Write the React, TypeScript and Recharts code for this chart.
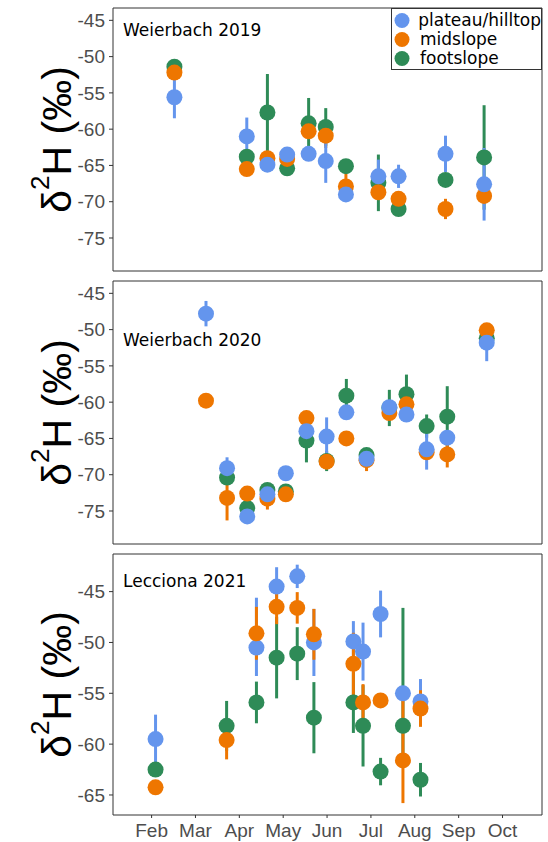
import React from "react";
import {
  ScatterChart,
  Scatter,
  XAxis,
  YAxis,
  ErrorBar,
  ReferenceArea,
  Legend,
} from "recharts";

const MONTH_TICKS = [2, 3, 4, 5, 6, 7, 8, 9, 10];
const MONTH_LABELS = ["Feb", "Mar", "Apr", "May", "Jun", "Jul", "Aug", "Sep", "Oct"];
const GROUPS = ["plateau/hilltop", "midslope", "footslope"];
const COLORS: Record<string, string> = {
  "plateau/hilltop": "#6495ED",
  midslope: "#EE7600",
  footslope: "#2E8B57",
};

const X_DOMAIN = [1.12, 10.9];
const WB_Y_DOMAIN = [-79.55, -43.3];
const WB_Y_TICKS = [-75, -70, -65, -60, -55, -50, -45];
const LE_Y_DOMAIN = [-66.97, -41.3];
const LE_Y_TICKS = [-65, -60, -55, -50, -45];

// error values: a number is symmetric, [below, above] is asymmetric
type Err = number | [number, number] | null;

// Weierbach 2019 (x = month position, Feb = 2)
const W19_X = [2.52, 4.17, 4.64, 5.09, 5.58, 5.97, 6.43, 7.17, 7.63, 8.7, 9.58];
const W19_PLATEAU = [-55.6, -61.0, -64.9, -63.5, -63.4, -64.4, -69.0, -66.5, -66.5, -63.4, -67.6];
const W19_PLATEAU_ERR: Err[] = [2.9, 2.6, 0, 0.5, 0.3, 3.0, 0, 2.3, 1.6, 2.5, 5.0];
const W19_MID = [-52.2, -65.5, -64.0, -64.1, -60.3, -60.9, -67.9, -68.7, -69.6, -71.0, -69.2];
const W19_MID_ERR: Err[] = [0.5, 0, 0.3, 1.0, 0.5, 1.7, 1.8, 0, 0, 1.4, 0];
const W19_FOOT = [-51.4, -63.8, -57.7, -65.4, -59.2, -59.7, -65.1, -67.4, -71.0, -67.0, -63.9];
const W19_FOOT_ERR: Err[] = [0.4, 0.8, 5.3, 0.5, 3.5, 2.6, 0.3, 3.9, 0, 0, 7.2];

// Weierbach 2020
const W20_X = [3.24, 3.72, 4.18, 4.64, 5.06, 5.53, 5.99, 6.44, 6.9, 7.42, 7.81, 8.27, 8.74, 9.64];
const W20_PLATEAU = [-47.8, -69.1, -75.75, -72.7, -69.8, -64.0, -64.75, -61.4, -67.8, -60.7, -61.7, -66.5, -64.9, -51.8];
const W20_PLATEAU_ERR: Err[] = [1.75, 1.5, 0.3, 0, 0, 1.85, 2.65, 0.5, 0.5, 0.5, 0.3, 2.8, 0, 2.55];
const W20_MID = [-59.8, -73.2, -72.6, -73.3, -72.7, -62.2, -68.2, -65.0, -68.0, -61.5, -60.3, -66.9, -67.2, -50.1];
const W20_MID_ERR: Err[] = [0, 3.1, 0.3, 1.5, 0, 0.5, 0, 0, 1.5, 0.5, 0.5, 0, 1.8, 0.5];
const W20_FOOT = [null, -70.4, -74.6, -72.1, -72.3, -65.3, -68.1, -59.1, -67.3, -60.8, -58.9, -63.3, -62.0, -51.2];
const W20_FOOT_ERR: Err[] = [null, 0.5, 1.85, 0, 0.5, 3.0, 1.4, 2.3, 0.5, 2.5, 2.7, 1.6, 4.2, 0.5];

// Lecciona 2021
const L21_X = [2.09, 3.71, 4.39, 4.85, 5.32, 5.7, 6.6, 6.82, 7.22, 7.73, 8.13];
const L21_PLATEAU = [-59.5, null, -50.5, -44.5, -43.5, -50.0, -49.9, -50.9, -47.2, -55.0, -55.8];
const L21_PLATEAU_ERR: Err[] = [2.4, null, [2.8, 4.9], 1.9, 1.15, 3.3, 2.0, 2.85, 2.3, 0, 2.2];
const L21_MID = [-64.25, -59.6, -49.1, -46.5, -46.6, -49.2, -52.1, -55.9, -55.7, -61.6, -56.5];
const L21_MID_ERR: Err[] = [0, 1.9, 2.6, 1.7, 1.55, 2.5, 3.05, 1.8, 0, [4.2, 6.8], 1.8];
const L21_FOOT = [-62.5, -58.2, -55.9, -51.5, -51.1, -57.4, -55.9, -58.2, -62.7, -58.2, -63.5];
const L21_FOOT_ERR: Err[] = [0, 2.45, 2.05, 4.0, 2.6, 3.5, 3.0, 4.0, 1.35, [4.0, 11.6], 1.65];

type Pt = { x: number; y: number; err: number | [number, number] };

function toPoints(xs: number[], ys: (number | null)[], errs: Err[]): Pt[] {
  const out: Pt[] = [];
  xs.forEach((x, i) => {
    const y = ys[i];
    if (y == null) return;
    out.push({ x, y, err: errs[i] ?? 0 });
  });
  return out;
}

const TICK_FONT = "'Liberation Sans', Arial, sans-serif";
const TEXT_FONT = "'DejaVu Sans', Verdana, sans-serif";

const YTitle = (props: any) => {
  const vb = props.viewBox || {};
  const cy = vb.height ? vb.y + vb.height / 2 : props.fallbackCy;
  const x = 71;
  return (
    <text
      x={x}
      y={cy}
      transform={`rotate(-90, ${x}, ${cy})`}
      textAnchor="middle"
      fontFamily={TICK_FONT}
      fontSize={41}
      fill="#000"
    >
      δ
      <tspan fontSize={26} dy={-22}>
        2
      </tspan>
      <tspan dy={22}>H (‰)</tspan>
    </text>
  );
};

const LegendBox = (props: any) => {
  const items = [...(props.payload || [])].sort(
    (a: any, b: any) => GROUPS.indexOf(a.value) - GROUPS.indexOf(b.value)
  );
  return (
    <div
      style={{
        border: "1px solid #333",
        background: "#fff",
        padding: "2px 0 1px 0",
        boxSizing: "border-box",
        width: 151,
      }}
    >
      {items.map((it: any) => (
        <div key={it.value} style={{ display: "flex", alignItems: "center", height: 19 }}>
          <svg width={28} height={19} style={{ display: "block" }}>
            <circle cx={10} cy={9.5} r={7.5} fill={COLORS[it.value]} />
          </svg>
          <span style={{ fontFamily: TEXT_FONT, fontSize: 17, color: "#000", lineHeight: "19px" }}>
            {it.value}
          </span>
        </div>
      ))}
    </div>
  );
};

type PanelProps = {
  top: number;
  height: number;
  marginTop: number;
  axisHeight: number;
  yDomain: number[];
  yTicks: number[];
  title: string;
  titleTop: number;
  series: Record<string, Pt[]>;
  order: string[];
  showXLabels?: boolean;
  showLegend?: boolean;
};

function Panel(p: PanelProps) {
  const fallbackCy = p.marginTop + (p.height - p.marginTop - p.axisHeight) / 2;
  return (
    <div style={{ position: "absolute", left: 0, top: p.top, width: 548, height: p.height }}>
      <ScatterChart
        width={548}
        height={p.height}
        margin={{ top: p.marginTop, right: 6, bottom: 0, left: 0 }}
      >
        <XAxis
          type="number"
          dataKey="x"
          domain={X_DOMAIN}
          ticks={MONTH_TICKS}
          interval={0}
          allowDataOverflow
          height={p.axisHeight}
          axisLine={false}
          tickSize={3}
          tickMargin={6}
          tickLine={{ stroke: "#333" }}
          tick={p.showXLabels ? { fontSize: 19, fill: "#4D4D4D", fontFamily: TICK_FONT } : false}
          tickFormatter={(v: number) => MONTH_LABELS[MONTH_TICKS.indexOf(v)] ?? ""}
        />
        <YAxis
          type="number"
          dataKey="y"
          domain={p.yDomain}
          ticks={p.yTicks}
          interval={0}
          allowDataOverflow
          width={113}
          axisLine={false}
          tickSize={4}
          tickMargin={4}
          tickLine={{ stroke: "#333" }}
          tick={{ fontSize: 19, fill: "#4D4D4D", fontFamily: TICK_FONT }}
          label={(lp: any) => <YTitle {...lp} fallbackCy={fallbackCy} />}
        />
        <ReferenceArea
          x1={X_DOMAIN[0]}
          x2={X_DOMAIN[1]}
          y1={p.yDomain[0]}
          y2={p.yDomain[1]}
          fill="none"
          stroke="#333"
          strokeWidth={1}
        />
        {p.order.map((g) => (
          <Scatter
            key={g}
            name={g}
            data={p.series[g]}
            fill={COLORS[g]}
            isAnimationActive={false}
            shape={(s: any) => <circle cx={s.cx} cy={s.cy} r={8} fill={COLORS[g]} />}
          >
            <ErrorBar
              dataKey="err"
              direction="y"
              width={0}
              stroke={COLORS[g]}
              strokeWidth={3}
              isAnimationActive={false}
            />
          </Scatter>
        ))}
        {p.showLegend && (
          <Legend
            layout="vertical"
            align="center"
            verticalAlign="middle"
            wrapperStyle={{ left: 391, top: 8, width: 151, height: 61 }}
            content={LegendBox}
          />
        )}
      </ScatterChart>
      <div
        style={{
          position: "absolute",
          left: 123,
          top: p.titleTop,
          fontFamily: TEXT_FONT,
          fontSize: 17,
          lineHeight: "17px",
          color: "#000",
          whiteSpace: "nowrap",
        }}
      >
        {p.title}
      </div>
    </div>
  );
}

export default function App() {
  const w19 = {
    "plateau/hilltop": toPoints(W19_X, W19_PLATEAU, W19_PLATEAU_ERR),
    midslope: toPoints(W19_X, W19_MID, W19_MID_ERR),
    footslope: toPoints(W19_X, W19_FOOT, W19_FOOT_ERR),
  };
  const w20 = {
    "plateau/hilltop": toPoints(W20_X, W20_PLATEAU, W20_PLATEAU_ERR),
    midslope: toPoints(W20_X, W20_MID, W20_MID_ERR),
    footslope: toPoints(W20_X, W20_FOOT, W20_FOOT_ERR),
  };
  const l21 = {
    "plateau/hilltop": toPoints(L21_X, L21_PLATEAU, L21_PLATEAU_ERR),
    midslope: toPoints(L21_X, L21_MID, L21_MID_ERR),
    footslope: toPoints(L21_X, L21_FOOT, L21_FOOT_ERR),
  };

  return (
    <div
      style={{
        position: "absolute",
        left: 0,
        top: 0,
        width: 548,
        height: 842,
        background: "#fff",
        overflow: "hidden",
      }}
    >
      <Panel
        top={0}
        height={278}
        marginTop={8}
        axisHeight={7}
        yDomain={WB_Y_DOMAIN}
        yTicks={WB_Y_TICKS}
        title="Weierbach 2019"
        titleTop={21.6}
        series={w19}
        order={["footslope", "midslope", "plateau/hilltop"]}
        showLegend
      />
      <Panel
        top={278}
        height={272}
        marginTop={3}
        axisHeight={6}
        yDomain={WB_Y_DOMAIN}
        yTicks={WB_Y_TICKS}
        title="Weierbach 2020"
        titleTop={53.6}
        series={w20}
        order={["footslope", "midslope", "plateau/hilltop"]}
      />
      <Panel
        top={550}
        height={292}
        marginTop={4}
        axisHeight={27}
        yDomain={LE_Y_DOMAIN}
        yTicks={LE_Y_TICKS}
        title="Lecciona 2021"
        titleTop={23.2}
        series={l21}
        order={["footslope", "plateau/hilltop", "midslope"]}
        showXLabels
      />
    </div>
  );
}
